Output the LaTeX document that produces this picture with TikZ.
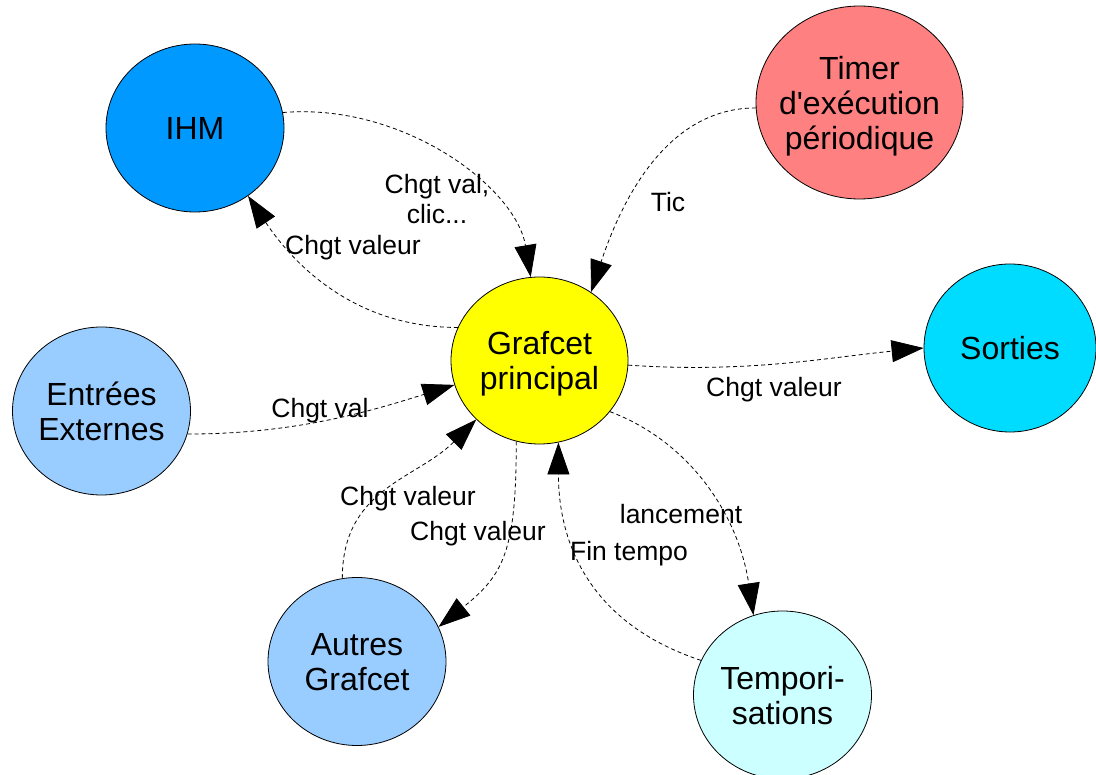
\documentclass[tikz,border=0pt]{standalone}
\usepackage{fontspec}
\setmainfont{Liberation Sans}
\usetikzlibrary{arrows.meta,shapes.geometric}
\definecolor{ihmcol}{HTML}{0099FF}
\definecolor{timercol}{HTML}{FF8080}
\definecolor{gpcol}{HTML}{FFFF00}
\definecolor{sortcol}{HTML}{00DCFF}
\definecolor{paleblue}{HTML}{99CCFF}
\definecolor{tempcol}{HTML}{CCFFFF}
\begin{document}
\begin{tikzpicture}[x=1pt,y=-1pt,
  blob/.style={ellipse,draw=black,line width=0.8pt,inner ysep=0pt,inner xsep=-20pt,
    minimum width=178pt,minimum height=168pt,align=center,text depth=0pt,
    font=\fontsize{32}{35}\selectfont},
  flow/.style={draw=black,line width=0.8pt,dash pattern=on 4pt off 3pt,
    -{Triangle[length=32pt,width=22pt]}},
  lbl/.style={font=\fontsize{26.5}{30}\selectfont,align=center,inner sep=0pt}]
\useasboundingbox (0,0) rectangle (1096,775);

% process nodes
\node[blob,fill=ihmcol]   (ihm)     at (195,128) {IHM};
\node[blob,fill=timercol,minimum width=207pt,minimum height=193pt] (timer)
  at (859.5,102.5) {Timer\\d\textquotesingle exécution\\périodique};
\node[blob,fill=gpcol,minimum width=177pt,minimum height=167pt] (gp)
  at (539.5,360.5) {Grafcet\\principal};
\node[blob,fill=sortcol,minimum width=172pt] (sorties) at (1010,348) {Sorties};
\node[blob,fill=paleblue] (entrees) at (101.5,411) {Entrées\\Externes};
\node[blob,fill=paleblue] (autres)  at (357,661.5) {Autres\\Grafcet};
\node[blob,fill=tempcol]  (temp)    at (782.5,695) {Tempori-\\sations};

% exchanges
\draw[flow] (ihm.10) .. controls +(120,-10) and +(-15,-90) .. (gp.96);
\draw[flow] (gp.158) .. controls +(-110,0) and +(40,60) .. (ihm.-52);
\draw[flow] (timer.183) .. controls +(-90,0) and +(30,-90) .. (gp.53);
\draw[flow] (gp.-3) .. controls +(120,8) and +(-100,10) .. (sorties.180);
\draw[flow] (entrees.-15) .. controls +(110,0) and +(-80,25) .. (gp.196);
\draw[flow] (autres.100) .. controls +(0,-90) and +(-60,60) .. (gp.-137);
\draw[flow] (gp.-106) .. controls +(0,110) and +(65,-52) .. (autres.23);
\draw[flow] (gp.-36) .. controls +(80,30) and +(-15,-100) .. (temp.110);
\draw[flow] (temp.157) .. controls +(-120,-40) and +(0,90) .. (gp.-77);

% labels
\node[lbl] (l1) at (437,199) {Chgt val,\\clic...};
\node[lbl] (l2) at (353,248) {Chgt valeur};
\node[lbl] (l3) at (668,202) {Tic};
\node[lbl] (l4) at (774,390) {Chgt valeur};
\node[lbl] (l5) at (320,411) {Chgt val};
\node[lbl] (l6) at (408,499) {Chgt valeur};
\node[lbl] (l7) at (478,534) {Chgt valeur};
\node[lbl] (l8) at (681,514) {lancement};
\node[lbl] (l9) at (629,554) {Fin tempo};
\end{tikzpicture}
\end{document}
